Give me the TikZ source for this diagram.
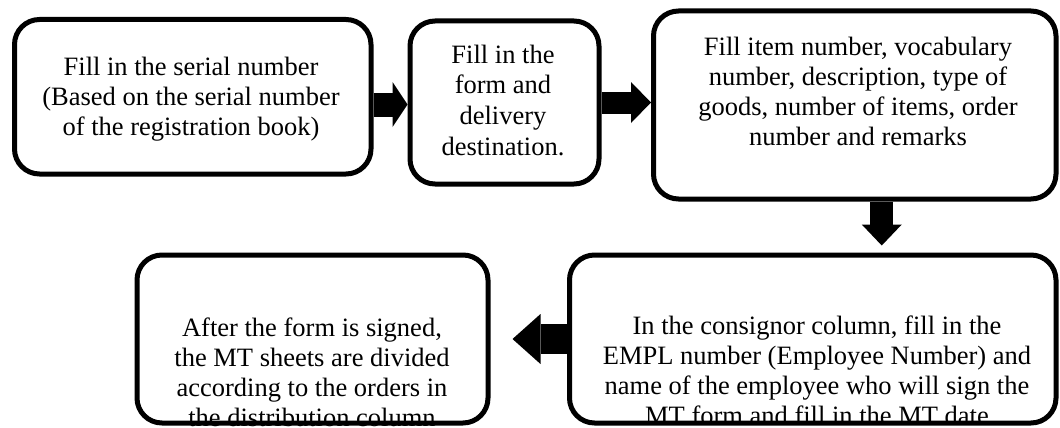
\documentclass[tikz,border=0pt]{standalone}
\usepackage{fontspec}
\setmainfont{Liberation Serif}
\usetikzlibrary{arrows.meta,calc}
\tikzset{
  stepbox/.style={draw, line width=5pt, rounded corners=25pt, inner sep=0pt},
  steptext/.style={align=center, inner sep=0pt, anchor=base,
    font=\fontsize{26.5}{30}\selectfont},
  fatflow/.style n args={3}{line width=#1,
    -{Triangle[width=#2,length=#3,line width=0pt]}},
}
\begin{document}
\begin{tikzpicture}[x=1pt,y=-1pt]
  \path[use as bounding box] (0,0) rectangle (1060,428);
  \clip (0,0) rectangle (1060,428);

  % step texts, placed by the baseline of their last line
  % (set first so the box borders lie on top)
  \node[steptext] (t1) at (191,135) {Fill in the serial number\\(Based on the serial number\\of the registration book)};
  \node[steptext, font=\fontsize{26.5}{30.8}\selectfont] (t2) at (503,155.5) {Fill in the\\form and\\delivery\\destination.};
  \node[steptext] (t3) at (858,145) {Fill item number, vocabulary\\number, description, type of\\goods, number of items, order\\number and remarks};
  \node[steptext] (t4) at (817,424) {In the consignor column, fill in the\\EMPL number (Employee Number) and\\name of the employee who will sign the\\MT form and fill in the MT date};
  \node[steptext] (t5) at (312,426) {After the form is signed,\\the MT sheets are divided\\according to the orders in\\the distribution column};

  % step boxes
  \node[stepbox, minimum width=356.5pt, minimum height=154.5pt] (b1) at (192.75,96.75) {};
  \node[stepbox, minimum width=189pt,   minimum height=163pt]   (b2) at (504.5,102.5) {};
  \node[stepbox, minimum width=402.5pt, minimum height=188pt]   (b3) at (854.75,105) {};
  \node[stepbox, minimum width=486.5pt, minimum height=168pt]   (b4) at (812.75,339) {};
  \node[stepbox, minimum width=351pt,   minimum height=168pt]   (b5) at (312.5,339) {};

  % flow arrows
  \draw[fatflow={24pt}{45pt}{15pt}] ([yshift=-2pt]b2.west -| b1.east) -- ([yshift=-2pt]b2.west);
  \draw[fatflow={22pt}{41pt}{20pt}] (b2.east) -- (b2.east -| b3.west);
  \coordinate (d3) at ([xshift=27pt]b3.south);
  \draw[fatflow={23pt}{40pt}{21pt}] (d3) -- ([yshift=7pt]d3 |- b4.north);
  \draw[fatflow={30pt}{50pt}{28pt}] (b4.west) -- ([xshift=22pt]b5.east);
\end{tikzpicture}
\end{document}
